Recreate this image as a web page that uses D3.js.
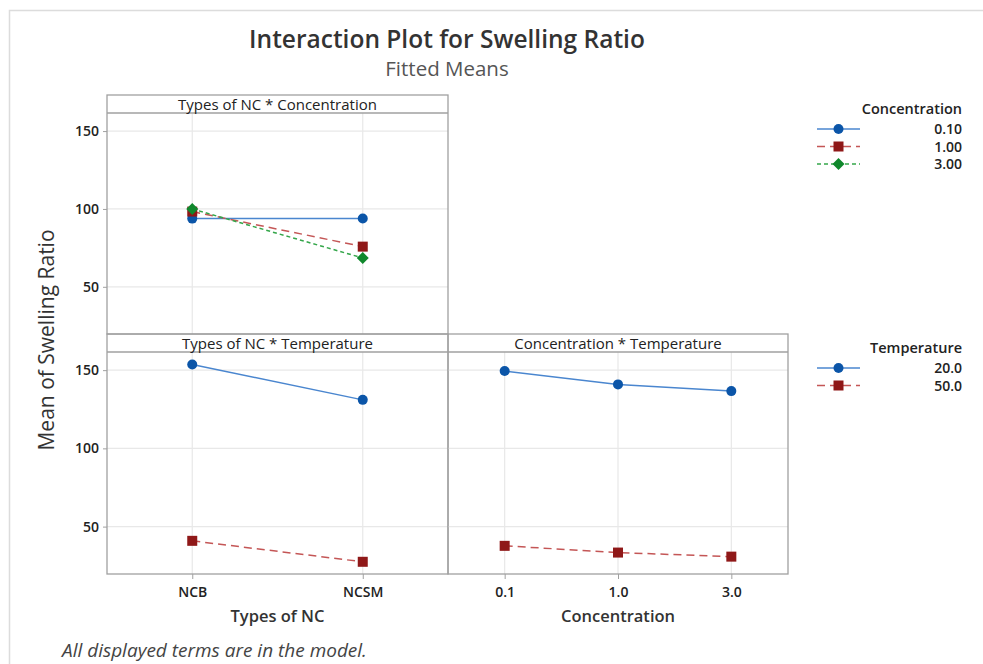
<!DOCTYPE html>
<html>
<head>
<meta charset="utf-8">
<script src="https://cdn.jsdelivr.net/npm/d3@7"></script>
<style>
  body { margin: 0; background: #fff; }
  svg { display: block; font-family: "Open Sans", "Noto Sans", sans-serif; }
</style>
</head>
<body>
<svg id="chart" width="983" height="664"></svg>
<script>
// data
var ncTypes = ['NCB', 'NCSM'];
var concLevels = ['0.1', '1.0', '3.0'];
var concLegend = ['0.10', '1.00', '3.00'];
var tempLegend = ['20.0', '50.0'];
var yTicks = [50, 100, 150];

var ncConc010 = [93.8, 93.9];
var ncConc100 = [98.3, 75.8];
var ncConc300 = [100.0, 68.5];
var ncTemp20 = [153.6, 131.0];
var ncTemp50 = [40.9, 27.5];
var concTemp20 = [149.4, 140.9, 136.6];
var concTemp50 = [37.7, 33.4, 30.8];

var styles = [
  { line: '#4a86cf', fill: '#0b55a8', dash: null, shape: 'circle' },
  { line: '#c45656', fill: '#8f1818', dash: '8,5', shape: 'square' },
  { line: '#34a64a', fill: '#10882c', dash: '4,3', shape: 'diamond' }
];

var svg = d3.select('#chart');

// outer frame
svg.append('rect').attr('x', 9.5).attr('y', 10.5).attr('width', 1000).attr('height', 700)
  .attr('fill', 'none').attr('stroke', '#dcdcdc').attr('stroke-width', 1.5);

// titles
svg.append('text').attr('x', 447).attr('y', 48).attr('text-anchor', 'middle')
  .attr('font-size', 24.5).attr('font-weight', 600).attr('fill', '#333')
  .text('Interaction Plot for Swelling Ratio');
svg.append('text').attr('x', 447).attr('y', 76).attr('text-anchor', 'middle')
  .attr('font-size', 20.5).attr('fill', '#555').text('Fitted Means');

var stripH = 18;
var yDomain = [19.7, 161.6];

function symbol(g, shape, cx, cy, fill) {
  if (shape === 'circle') {
    g.append('circle').attr('cx', cx).attr('cy', cy).attr('r', 5).attr('fill', fill);
  } else if (shape === 'square') {
    g.append('rect').attr('x', cx - 5).attr('y', cy - 5).attr('width', 10).attr('height', 10).attr('fill', fill);
  } else {
    g.append('path').attr('d', 'M' + cx + ',' + (cy - 6) + 'L' + (cx + 6) + ',' + cy + 'L' + cx + ',' + (cy + 6) + 'L' + (cx - 6) + ',' + cy + 'Z')
      .attr('fill', fill);
  }
}

function panel(opt) {
  var x0 = opt.x0, x1 = opt.x1, top = opt.top, bottom = opt.bottom;
  var plotTop = top + stripH;
  var x = d3.scalePoint().domain(opt.cats).range([x0, x1]).padding(0.5);
  var y = d3.scaleLinear().domain(yDomain).range([bottom, plotTop]);
  var g = svg.append('g');

  // grid
  g.selectAll('line.hg').data(yTicks).enter().append('line')
    .attr('x1', x0).attr('x2', x1)
    .attr('y1', function (d) { return y(d); }).attr('y2', function (d) { return y(d); })
    .attr('stroke', '#e8e8e8').attr('stroke-width', 1.2);
  g.selectAll('line.vg').data(opt.cats).enter().append('line')
    .attr('x1', function (d) { return x(d); }).attr('x2', function (d) { return x(d); })
    .attr('y1', plotTop).attr('y2', bottom)
    .attr('stroke', '#e8e8e8').attr('stroke-width', 1.2);

  // series
  opt.series.forEach(function (vals, i) {
    var st = styles[i];
    var line = d3.line().x(function (d, j) { return x(opt.cats[j]); }).y(function (d) { return y(d); });
    g.append('path').datum(vals).attr('d', line).attr('fill', 'none')
      .attr('stroke', st.line).attr('stroke-width', 1.5)
      .attr('stroke-dasharray', st.dash);
  });
  opt.series.forEach(function (vals, i) {
    vals.forEach(function (v, j) { symbol(g, styles[i].shape, x(opt.cats[j]), y(v), styles[i].fill); });
  });

  // frame + strip
  g.append('rect').attr('x', x0).attr('y', top).attr('width', x1 - x0).attr('height', bottom - top)
    .attr('fill', 'none').attr('stroke', '#a0a0a0').attr('stroke-width', 1.3);
  g.append('line').attr('x1', x0).attr('x2', x1).attr('y1', plotTop).attr('y2', plotTop)
    .attr('stroke', '#a0a0a0').attr('stroke-width', 1.3);
  g.append('text').attr('x', (x0 + x1) / 2).attr('y', top + 14.5).attr('text-anchor', 'middle')
    .attr('font-size', 15).attr('fill', '#222').text(opt.strip);

  if (opt.yAxis) {
    var ya = g.append('g').attr('transform', 'translate(' + x0 + ',0)')
      .call(d3.axisLeft(y).tickValues(yTicks).tickSize(4).tickPadding(4));
    ya.select('.domain').remove();
    ya.selectAll('line').attr('stroke', '#a0a0a0');
    ya.selectAll('text').attr('font-size', 14).attr('font-weight', 600).attr('fill', '#222')
      .attr('font-family', '"Open Sans", sans-serif');
  }
  if (opt.xAxis) {
    var xa = g.append('g').attr('transform', 'translate(0,' + bottom + ')')
      .call(d3.axisBottom(x).tickSize(5).tickPadding(8));
    xa.select('.domain').remove();
    xa.selectAll('line').attr('stroke', '#a0a0a0');
    xa.selectAll('text').attr('font-size', 14).attr('font-weight', 600).attr('fill', '#222')
      .attr('font-family', '"Open Sans", sans-serif');
    svg.append('text').attr('x', (x0 + x1) / 2).attr('y', bottom + 48).attr('text-anchor', 'middle')
      .attr('font-size', 16.5).attr('font-weight', 600).attr('fill', '#333').text(opt.xTitle);
  }
}

panel({ x0: 107, x1: 448, top: 95, bottom: 334, cats: ncTypes, strip: 'Types of NC * Concentration',
  series: [ncConc010, ncConc100, ncConc300], yAxis: true });
panel({ x0: 107, x1: 448, top: 334, bottom: 574, cats: ncTypes, strip: 'Types of NC * Temperature',
  series: [ncTemp20, ncTemp50], yAxis: true, xAxis: true, xTitle: 'Types of NC' });
panel({ x0: 448, x1: 788, top: 334, bottom: 574, cats: concLevels, strip: 'Concentration * Temperature',
  series: [concTemp20, concTemp50], xAxis: true, xTitle: 'Concentration' });

// y title
svg.append('text').attr('transform', 'translate(54,340) rotate(-90)').attr('text-anchor', 'middle')
  .attr('font-size', 21).attr('fill', '#333').text('Mean of Swelling Ratio');

// legends
function legend(title, labels, top, firstY) {
  var g = svg.append('g');
  g.append('text').attr('x', 962).attr('y', top).attr('text-anchor', 'end')
    .attr('font-size', 14.5).attr('font-weight', 600).attr('fill', '#222').text(title);
  labels.forEach(function (lab, i) {
    var cy = firstY + i * 17.5, st = styles[i];
    g.append('line').attr('x1', 817).attr('x2', 860).attr('y1', cy).attr('y2', cy)
      .attr('stroke', st.line).attr('stroke-width', 1.5).attr('stroke-dasharray', st.dash);
    symbol(g, st.shape, 838.5, cy, st.fill);
    g.append('text').attr('x', 962).attr('y', cy + 5).attr('text-anchor', 'end')
      .attr('font-size', 14).attr('font-weight', 600).attr('fill', '#222').text(lab);
  });
}
legend('Concentration', concLegend, 114, 129);
legend('Temperature', tempLegend, 353, 368);

// footnote
svg.append('text').attr('x', 62).attr('y', 657).attr('font-size', 19).attr('font-style', 'italic')
  .attr('fill', '#444').text('All displayed terms are in the model.');
</script>
</body>
</html>
